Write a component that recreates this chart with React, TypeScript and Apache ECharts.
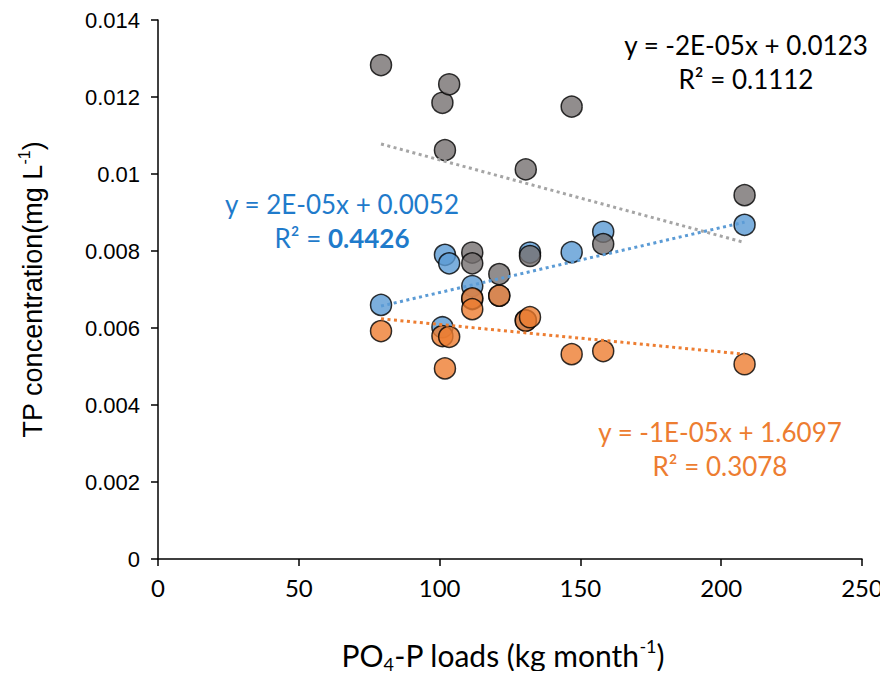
import React, { useEffect, useRef } from "react";
import * as echarts from "echarts";

// x values (PO4-P loads, kg month^-1) shared by all three series
const loads = [79.2, 101.0, 101.9, 103.4, 111.6, 111.6, 121.2, 130.6, 132.1, 146.9, 158.1, 208.3];
// TP concentration series
const blueValues = [0.0066, 0.00602, 0.0079, 0.00768, 0.00709, 0.00675, 0.00684, 0.0062, 0.00796, 0.00797, 0.0085, 0.00868];
const orangeValues = [0.00592, 0.00579, 0.00495, 0.00577, 0.00677, 0.00649, 0.00684, 0.00619, 0.00628, 0.00532, 0.0054, 0.00506];
const grayValues = [0.01283, 0.01185, 0.01062, 0.01233, 0.00796, 0.00768, 0.0074, 0.01012, 0.00787, 0.01175, 0.00818, 0.00945];

// trendline endpoints [x, y]
const grayTrend = [[79.2, 0.01078], [208.3, 0.00822]];
const blueTrend = [[79.2, 0.00657], [208.3, 0.00875]];
const orangeTrend = [[79.2, 0.00624], [208.3, 0.00532]];

const xTicks = { min: 0, max: 250, interval: 50 };
const yTicks = { min: 0, max: 0.014, interval: 0.002 };

const grayEq = ["y = -2E-05x + 0.0123", "R² = 0.1112"];
const blueEq = ["y = 2E-05x + 0.0052", "R² = ", "0.4426"];
const orangeEq = ["y = -1E-05x + 1.6097", "R² = 0.3078"];

const BLUE = "#5B9BD5";
const ORANGE = "#ED7D31";
const GRAY = "#767171";
const GRAY_LINE = "#A5A5A5";

const pair = (xs: number[], ys: number[]) => xs.map((x, i) => [x, ys[i]]);

export default function App() {
  const ref = useRef<HTMLDivElement>(null);
  useEffect(() => {
    if (!ref.current) return;
    const chart = echarts.init(ref.current, undefined, { renderer: "svg" });
    const scatterCommon = {
      type: "scatter",
      symbol: "circle",
      symbolSize: 21,
      z: 2,
    };
    const trendCommon = {
      type: "line",
      symbol: "none",
      z: 3,
      silent: true,
    };
    const eqFont = "Lato";
    const eqSize = 26;
    chart.setOption({
      animation: false,
      backgroundColor: "#ffffff",
      grid: { left: 158, right: 26, top: 20, bottom: 120 },
      xAxis: {
        type: "value",
        min: xTicks.min,
        max: xTicks.max,
        interval: xTicks.interval,
        splitLine: { show: false },
        axisLine: { onZero: false, lineStyle: { color: "#000", width: 1.5 } },
        axisTick: { show: true, length: 7, lineStyle: { color: "#000", width: 1.5 } },
        axisLabel: { color: "#000", fontFamily: "Lato", fontSize: 24, margin: 16 },
        name: "{n|PO}{sub|4}{n|-P loads (kg month}{sup|-1}{n|)}",
        nameLocation: "middle",
        nameGap: 78,
        nameTextStyle: {
          padding: [0, 14, 0, 0],
          rich: {
            n: { fontFamily: "Lato", fontSize: 30, color: "#000", lineHeight: 36, verticalAlign: "middle" },
            sub: { fontFamily: "Lato", fontSize: 18, color: "#000", lineHeight: 36, verticalAlign: "bottom" },
            sup: { fontFamily: "Lato", fontSize: 18, color: "#000", lineHeight: 36, verticalAlign: "top" },
          },
        },
      },
      yAxis: {
        type: "value",
        min: yTicks.min,
        max: yTicks.max,
        interval: yTicks.interval,
        splitLine: { show: false },
        axisLine: { show: true, onZero: false, lineStyle: { color: "#000", width: 1.5 } },
        axisTick: { show: true, length: 7, lineStyle: { color: "#000", width: 1.5 } },
        axisLabel: {
          color: "#000",
          fontFamily: "Liberation Sans",
          fontSize: 22,
          margin: 18,
          formatter: (v: number) => String(+v.toFixed(3)),
        },
        name: "{n|TP concentration(mg L}{sup|-1}{n|)}",
        nameLocation: "middle",
        nameRotate: 90,
        nameGap: 108,
        nameTextStyle: {
          rich: {
            n: { fontFamily: "Liberation Sans", fontSize: 27, color: "#000", lineHeight: 34, verticalAlign: "middle" },
            sup: { fontFamily: "Liberation Sans", fontSize: 16, color: "#000", lineHeight: 34, verticalAlign: "top" },
          },
        },
      },
      series: [
        {
          ...scatterCommon,
          name: "blue",
          data: pair(loads, blueValues),
          itemStyle: { color: BLUE, borderColor: "#000", borderWidth: 1.5 },
        },
        {
          ...scatterCommon,
          name: "orange",
          data: pair(loads, orangeValues),
          itemStyle: { color: ORANGE, borderColor: "#000", borderWidth: 1.5 },
        },
        {
          ...scatterCommon,
          name: "gray",
          data: pair(loads, grayValues),
          itemStyle: { color: GRAY, borderColor: "#000", borderWidth: 1.5 },
        },
        {
          ...trendCommon,
          data: grayTrend,
          lineStyle: { color: GRAY_LINE, width: 3, type: [3, 3.5] },
        },
        {
          ...trendCommon,
          data: blueTrend,
          lineStyle: { color: BLUE, width: 3, type: [3, 3.5] },
        },
        {
          ...trendCommon,
          data: orangeTrend,
          lineStyle: { color: ORANGE, width: 3, type: [3, 3.5] },
        },
      ],
      graphic: [
        {
          type: "text",
          x: 746,
          y: 28,
          style: {
            text: grayEq.join("\n"),
            fill: "#000",
            font: `${eqSize}px ${eqFont}`,
            lineHeight: 34,
            align: "center",
          },
        },
        {
          type: "text",
          x: 342,
          y: 187,
          style: {
            text: `{n|${blueEq[0]}}\n{n|${blueEq[1]}}{b|${blueEq[2]}}`,
            align: "center",
            rich: {
              n: { fill: "#1F7BCB", fontFamily: eqFont, fontSize: eqSize, lineHeight: 34 },
              b: { fill: "#1F7BCB", fontFamily: eqFont, fontSize: eqSize, fontWeight: "bold", lineHeight: 34 },
            },
          },
        },
        {
          type: "text",
          x: 720,
          y: 415,
          style: {
            text: orangeEq.join("\n"),
            fill: ORANGE,
            font: `${eqSize}px ${eqFont}`,
            lineHeight: 34,
            align: "center",
          },
        },
      ],
    });
    return () => chart.dispose();
  }, []);
  return <div ref={ref} style={{ width: 888, height: 679, margin: -8 }} />;
}
